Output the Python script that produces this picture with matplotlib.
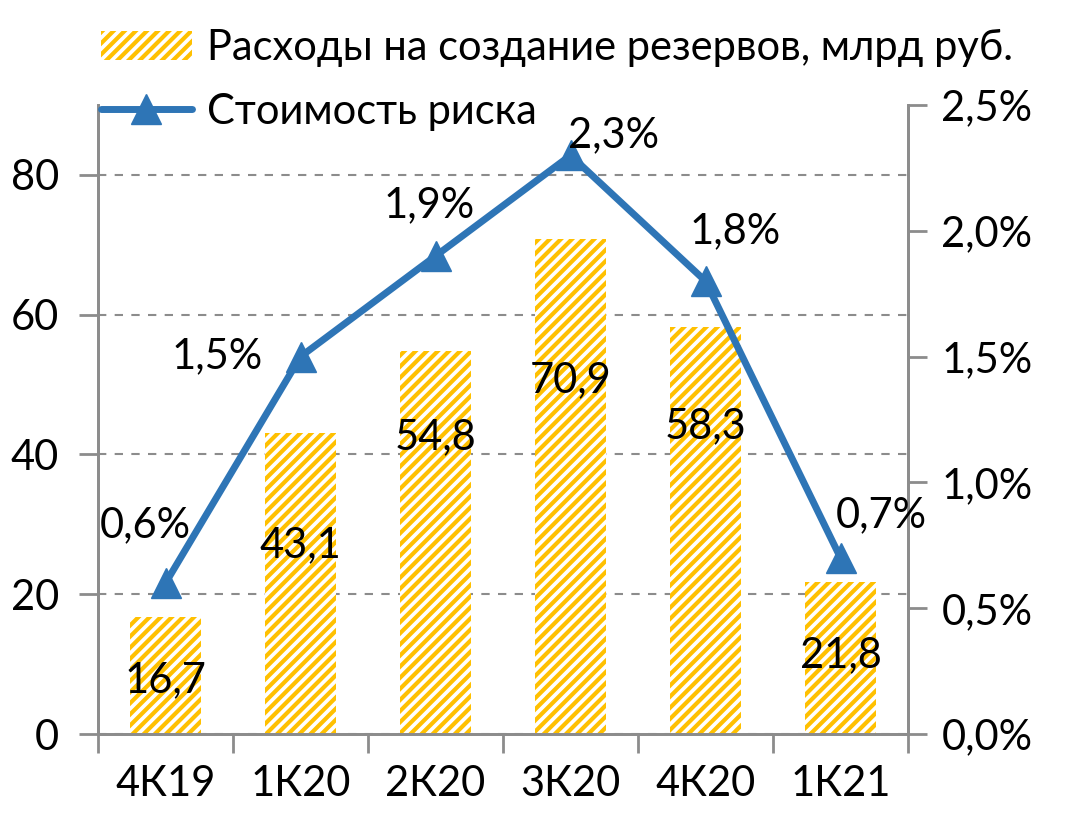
import numpy as np
import matplotlib.pyplot as plt
from matplotlib.ticker import FuncFormatter, FixedLocator

plt.rcParams['font.family'] = ['Lato', 'Open Sans', 'DejaVu Sans']
plt.rcParams['font.size'] = 30
plt.rcParams['hatch.linewidth'] = 3.0

# данные
quarters = ['4К19', '1К20', '2К20', '3К20', '4К20', '1К21']
provisions = [16.7, 43.1, 54.8, 70.9, 58.3, 21.8]      # млрд руб.
cost_of_risk = [0.6, 1.5, 1.9, 2.3, 1.8, 0.7]          # %

bar_label = 'Расходы на создание резервов, млрд руб.'
line_label = 'Стоимость риска'

# где стоят подписи (смещения в единицах осей)
bar_label_y = [7.7, 27.0, 42.4, 50.6, 44.1, 11.3]
pct_label_dx = [-0.15, -0.62, -0.05, 0.32, 0.22, 0.3]
pct_label_dy = [0.23, 0.0, 0.2, 0.08, 0.2, 0.17]

yellow = '#FFC000'
blue = '#2E75B6'
gray = '#8C8C8C'

fig = plt.figure(figsize=(10.81, 8.25), dpi=100)
ax = fig.add_axes([0.0907, 0.1103, 0.7493, 0.7624])
ax2 = ax.twinx()

x = np.arange(len(quarters))
bars = ax.bar(x, provisions, 0.53, facecolor='white', edgecolor=yellow,
              linewidth=0, hatch='///', label=bar_label, zorder=2)
for xi, yl, v in zip(x, bar_label_y, provisions):
    ax.text(xi, yl, f'{v:.1f}'.replace('.', ','), ha='center', va='center', zorder=5)

line, = ax2.plot(x, cost_of_risk, color=blue, lw=5, marker='^', markersize=21,
                 solid_capstyle='round', label=line_label, zorder=3)
for xi, v, dx, dy in zip(x, cost_of_risk, pct_label_dx, pct_label_dy):
    ax2.text(xi + dx, v + dy, f'{v:.1f}%'.replace('.', ','), ha='center', va='center')

ax.set_xlim(-0.5, len(quarters) - 0.5)
ax.set_ylim(0, 90)
ax2.set_ylim(0, 2.5)
ax.set_yticks([0, 20, 40, 60, 80])
ax2.set_yticks([0, 0.5, 1.0, 1.5, 2.0, 2.5])
ax2.yaxis.set_major_formatter(FuncFormatter(lambda v, p: f'{v:.1f}%'.replace('.', ',')))

ax.set_xticks(x)
ax.set_xticklabels(quarters)
ax.xaxis.set_minor_locator(FixedLocator(np.arange(-0.5, len(quarters), 1.0)))
ax.tick_params(axis='x', which='major', length=0, pad=22)
ax.tick_params(axis='x', which='minor', length=14, width=2, color=gray)
ax.tick_params(axis='y', length=14, width=2, color=gray, pad=14)
ax2.tick_params(axis='y', length=14, width=2, color=gray, pad=10)

ax.yaxis.grid(True, linestyle=(0, (4, 4)), color=gray, linewidth=1.5)
ax.set_axisbelow(True)

for a in (ax, ax2):
    a.spines['top'].set_visible(False)
    for s in ('left', 'right', 'bottom'):
        a.spines[s].set_color(gray)
        a.spines[s].set_linewidth(2)

fig.legend([bars, line], [bar_label, line_label], loc='upper left',
           bbox_to_anchor=(0.066, 1.0), frameon=False, handlelength=2.2,
           handleheight=0.7, handletextpad=0.35, labelspacing=0.62, borderaxespad=0.3)

plt.savefig('out.png', dpi=100, facecolor='white')
